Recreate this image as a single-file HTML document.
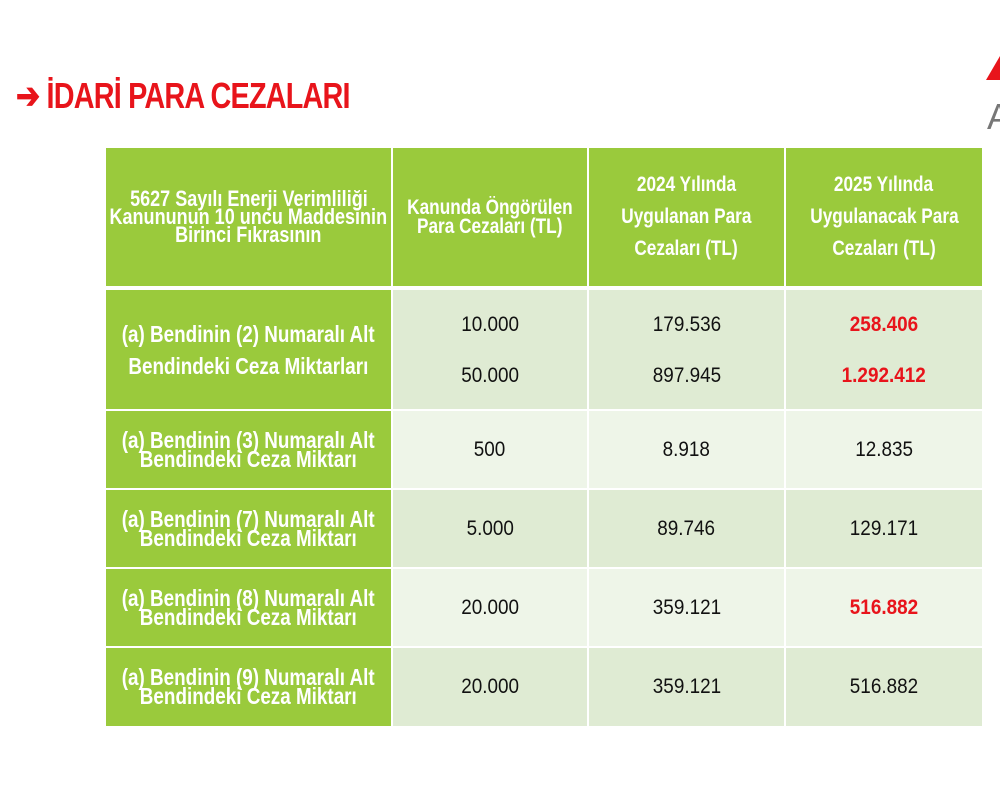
<!DOCTYPE html>
<html><head><meta charset="utf-8"><style>
body{margin:0;width:1000px;height:800px;background:#fff;position:relative;overflow:hidden;font-family:"Liberation Sans",sans-serif}
.a{position:absolute}
.c{position:absolute;display:flex;align-items:center;justify-content:center;text-align:center;flex-direction:column}
.c span{display:block;white-space:nowrap;transform:scaleX(0.82)}
.g{background:#9aca3c;color:#fff;font-weight:bold}
.d{background:#dfebd3}.l{background:#eef5e8}
.t{font-size:21px;color:#111}
.t span{transform:scaleX(0.9)}
.h{font-size:21px}
.lb{font-size:23px}
.r{color:#e8141b;font-weight:bold}
</style></head><body>
<div class="a" style="left:16px;top:75px;color:#e8141b;font-size:36px;font-weight:bold;letter-spacing:-1px;white-space:nowrap;transform:scaleX(0.8);transform-origin:left">➔ İDARİ PARA CEZALARI</div>
<div class="a" style="left:986px;top:56px;width:0;height:0;border-left:14px solid transparent;border-bottom:24px solid #e8141b"></div>
<div class="a" style="left:987px;top:96px;color:#777;font-size:36px">A</div>

<div class="c g h" style="left:106px;top:148px;width:285px;height:138px;line-height:18px;font-size:22px"><span>5627 Sayılı Enerji Verimliliği</span><span>Kanununun 10 uncu Maddesinin</span><span>Birinci Fıkrasının</span></div>
<div class="c g h" style="left:393px;top:148px;width:194px;height:138px;line-height:19px;font-size:21px"><span>Kanunda Öngörülen</span><span>Para Cezaları (TL)</span></div>
<div class="c g h" style="left:589px;top:148px;width:195px;height:138px;line-height:32px"><span>2024 Yılında</span><span>Uygulanan Para</span><span>Cezaları (TL)</span></div>
<div class="c g h" style="left:786px;top:148px;width:196px;height:138px;line-height:32px"><span>2025 Yılında</span><span>Uygulanacak Para</span><span>Cezaları (TL)</span></div>

<div class="c g lb" style="left:106px;top:290px;width:285px;height:119px;line-height:32px"><span>(a) Bendinin (2) Numaralı Alt</span><span>Bendindeki Ceza Miktarları</span></div>
<div class="c d t" style="left:393px;top:290px;width:194px;height:119px;line-height:51px"><span>10.000</span><span>50.000</span></div>
<div class="c d t" style="left:589px;top:290px;width:195px;height:119px;line-height:51px"><span>179.536</span><span>897.945</span></div>
<div class="c d t r" style="left:786px;top:290px;width:196px;height:119px;line-height:51px"><span>258.406</span><span>1.292.412</span></div>

<div class="c g lb" style="left:106px;top:411px;width:285px;height:77px;line-height:19px"><span>(a) Bendinin (3) Numaralı Alt</span><span>Bendindeki Ceza Miktarı</span></div>
<div class="c l t" style="left:393px;top:411px;width:194px;height:77px"><span>500</span></div>
<div class="c l t" style="left:589px;top:411px;width:195px;height:77px"><span>8.918</span></div>
<div class="c l t" style="left:786px;top:411px;width:196px;height:77px"><span>12.835</span></div>

<div class="c g lb" style="left:106px;top:490px;width:285px;height:77px;line-height:19px"><span>(a) Bendinin (7) Numaralı Alt</span><span>Bendindeki Ceza Miktarı</span></div>
<div class="c d t" style="left:393px;top:490px;width:194px;height:77px"><span>5.000</span></div>
<div class="c d t" style="left:589px;top:490px;width:195px;height:77px"><span>89.746</span></div>
<div class="c d t" style="left:786px;top:490px;width:196px;height:77px"><span>129.171</span></div>

<div class="c g lb" style="left:106px;top:569px;width:285px;height:77px;line-height:19px"><span>(a) Bendinin (8) Numaralı Alt</span><span>Bendindeki Ceza Miktarı</span></div>
<div class="c l t" style="left:393px;top:569px;width:194px;height:77px"><span>20.000</span></div>
<div class="c l t" style="left:589px;top:569px;width:195px;height:77px"><span>359.121</span></div>
<div class="c l t r" style="left:786px;top:569px;width:196px;height:77px"><span>516.882</span></div>

<div class="c g lb" style="left:106px;top:648px;width:285px;height:78px;line-height:19px"><span>(a) Bendinin (9) Numaralı Alt</span><span>Bendindeki Ceza Miktarı</span></div>
<div class="c d t" style="left:393px;top:648px;width:194px;height:78px"><span>20.000</span></div>
<div class="c d t" style="left:589px;top:648px;width:195px;height:78px"><span>359.121</span></div>
<div class="c d t" style="left:786px;top:648px;width:196px;height:78px"><span>516.882</span></div>
</body></html>
